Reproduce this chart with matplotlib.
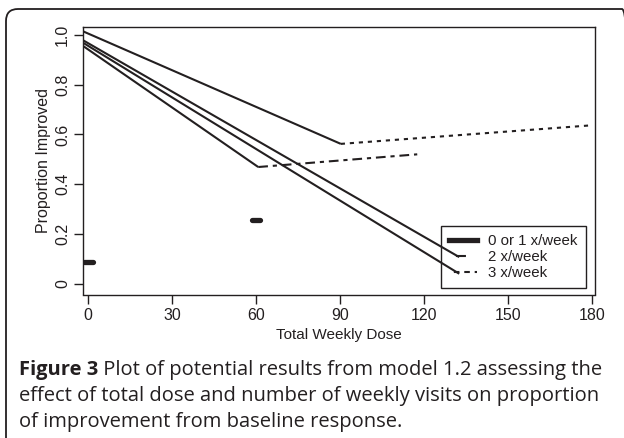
import matplotlib
matplotlib.use('Agg')
import matplotlib.pyplot as plt
from matplotlib.lines import Line2D
from matplotlib.patches import FancyBboxPatch
from matplotlib.transforms import IdentityTransform

plt.rcParams['font.family'] = ['Liberation Sans', 'DejaVu Sans']
plt.rcParams['lines.scale_dashes'] = False

ink = '#231f20'

# values
x_left = -1.8

# 3 x/week: solid fall then dotted rise
three_solid_x = [x_left, 90.2]
three_solid_y = [1.014, 0.562]
three_dot_x = [90.2, 179.0]
three_dot_y = [0.562, 0.636]

# 2 x/week: solid fall then dashed rise
two_solid_x = [x_left, 60.7]
two_solid_y = [0.955, 0.469]
two_dash_x = [60.7, 117.5]
two_dash_y = [0.469, 0.520]

# the two long falling lines
long_x = [x_left, 132.5]
long_a_y = [0.978, 0.107]
long_b_y = [0.968, 0.040]

# 0 or 1 x/week: short thick marks
once_x = [[-1.5, 1.8], [58.6, 61.4]]
once_y = [[0.088, 0.088], [0.257, 0.257]]

x_ticks = [0, 30, 60, 90, 120, 150, 180]
y_ticks = [0, 0.2, 0.4, 0.6, 0.8, 1.0]
y_labels = ['0', '0.2', '0.4', '0.6', '0.8', '1.0']
legend_labels = ['0 or 1 x/week', '2 x/week', '3 x/week']

caption_bold = 'Figure 3'
caption_lines = [' Plot of potential results from model 1.2 assessing the',
                 'effect of total dose and number of weekly visits on proportion',
                 'of improvement from baseline response.']

W, H = 624, 438
fig = plt.figure(figsize=(W / 100, H / 100), dpi=100)

# rounded outer frame, in pixels (right and bottom run off the canvas)
frame = FancyBboxPatch((6, -30), 634 - 6, H - 9 + 30,
                       boxstyle='round,pad=0,rounding_size=12',
                       transform=IdentityTransform(), fill=False,
                       edgecolor=ink, linewidth=1.3, clip_on=False)
fig.patches.append(frame)

ax = fig.add_axes([83.3 / W, 1 - 294.5 / H, (595 - 83.3) / W, (294.5 - 26.7) / H])

lw = 1.5
ax.plot(three_solid_x, three_solid_y, color=ink, lw=lw, solid_capstyle='butt')
ax.plot(three_dot_x, three_dot_y, color=ink, lw=lw, linestyle=(0, (3, 3.5)))
ax.plot(two_solid_x, two_solid_y, color=ink, lw=lw, solid_capstyle='butt')
ax.plot(two_dash_x, two_dash_y, color=ink, lw=lw, linestyle=(0, (7, 3.5, 3, 3.5)))
ax.plot(long_x, long_a_y, color=ink, lw=lw, solid_capstyle='butt')
ax.plot(long_x, long_b_y, color=ink, lw=lw, solid_capstyle='butt')
for xs, ys in zip(once_x, once_y):
    ax.plot(xs, ys, color=ink, lw=3.8, solid_capstyle='round')

ax.set_xlim(-1.79, 181.0)
ax.set_ylim(-0.0434, 1.033)
ax.set_xticks(x_ticks)
ax.set_yticks(y_ticks)
ax.set_yticklabels(y_labels, rotation=90, va='center')
ax.tick_params(direction='out', length=6.5, width=1.0, color=ink,
               labelsize=11.5, labelcolor=ink, pad=3)
for s in ax.spines.values():
    s.set_color(ink)
    s.set_linewidth(1.0)

ax.set_xlabel('Total Weekly Dose', fontsize=11, color=ink, labelpad=4)
ax.set_ylabel('Proportion Improved', fontsize=11.5, color=ink, labelpad=3)

handles = [
    Line2D([], [], color=ink, lw=3.8),
    Line2D([], [], color=ink, lw=lw, linestyle=(14.2, (7.2, 12))),
    Line2D([], [], color=ink, lw=lw, linestyle=(4, (4, 3.5))),
]
# transparent legend box: the long lines run into it in the reference
leg = ax.legend(handles, legend_labels, loc='lower right',
                bbox_to_anchor=((586 - 83.3) / 511.7, (294.5 - 288) / 267.8),
                fontsize=10.8, frameon=True, fancybox=False, framealpha=1,
                facecolor='none', edgecolor=ink, handlelength=1.85,
                handletextpad=0.75, labelspacing=0.12, borderpad=0.55,
                borderaxespad=0)
leg.get_frame().set_linewidth(1.0)
for t in leg.get_texts():
    t.set_color(ink)

# caption under the chart
cap_font = ['Open Sans', 'DejaVu Sans']
cap_size = 14.5
x0 = 19 / W
bold = fig.text(x0, 1 - 375 / H, caption_bold, fontsize=cap_size, fontweight='bold',
                family=cap_font, color=ink, va='baseline')
fig.canvas.draw()
bb = bold.get_window_extent()
fig.text(bb.x1 / W, 1 - 375 / H, caption_lines[0], fontsize=cap_size,
         family=cap_font, color=ink, va='baseline')
fig.text(x0, 1 - 401 / H, caption_lines[1], fontsize=cap_size,
         family=cap_font, color=ink, va='baseline')
fig.text(x0, 1 - 427 / H, caption_lines[2], fontsize=cap_size,
         family=cap_font, color=ink, va='baseline')

fig.savefig('out.png', dpi=100)
